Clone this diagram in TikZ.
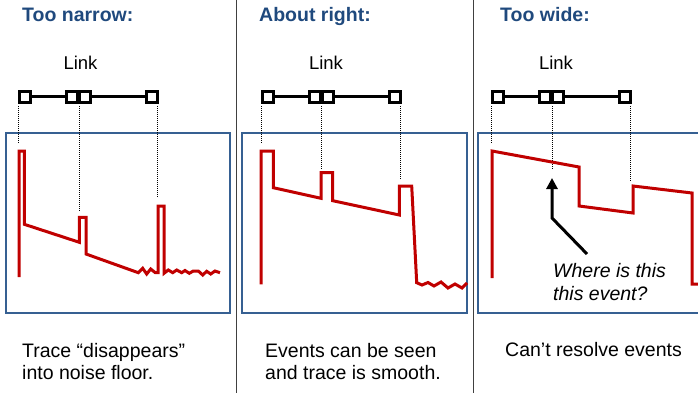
\documentclass[tikz,border=0pt]{standalone}
\usepackage{fontspec}
\setmainfont{Liberation Sans}
\usetikzlibrary{arrows.meta}
\definecolor{titleblue}{RGB}{31,73,125}
\definecolor{boxblue}{RGB}{54,96,146}
\definecolor{tracered}{RGB}{192,0,0}
\definecolor{sepgray}{RGB}{64,64,64}
\newcommand\linkrow[3]{% #1 prefix, #2 x of first square, #3 label x offset
  \node[sq] (#1a) at (#2,97) {};
  \node[sq] (#1b) at (#2+47,97) {};
  \node[sq] (#1c) at (#2+60.3,97) {};
  \node[sq] (#1d) at (#2+127,97) {};
  \draw[linkline] (#1a) -- (#1b);
  \draw[linkline] (#1c) -- (#1d);
  \node[linklabel] (#1lab) at (#2+#3,70) {Link};
}
\begin{document}
\begin{tikzpicture}[x=1pt,y=-1pt,
  title/.style={anchor=base west, inner sep=0, text=titleblue, font=\bfseries\fontsize{19.5}{22}\selectfont},
  linklabel/.style={anchor=base, inner sep=0, font=\fontsize{18.5}{20}\selectfont},
  caption/.style={anchor=base west, inner sep=0, font=\fontsize{19.5}{22}\selectfont},
  question/.style={anchor=base west, inner sep=0, font=\itshape\fontsize{19.5}{22}\selectfont},
  sq/.style={draw, line width=3pt, fill=white, minimum size=10.8pt, inner sep=0},
  linkline/.style={line width=3pt},
  guide/.style={line width=0.8pt, dash pattern=on 1pt off 1pt},
  panelbox/.style={draw=boxblue, line width=1.2pt},
  trace/.style={draw=tracered, line width=3pt},
  sepline/.style={draw=sepgray, line width=1.3pt}]
\useasboundingbox (0,0) rectangle (698,393);
\clip (0,0) rectangle (698,393);

% separators
\coordinate (s1t) at (236.5,0);  \coordinate (s1b) at (236.5,393);
\coordinate (s2t) at (473.5,0);  \coordinate (s2b) at (473.5,393);
\draw[sepline] (s1t) -- (s1b);
\draw[sepline] (s2t) -- (s2b);

% titles
\node[title] (t1) at (22,22) {Too narrow:};
\node[title] (t2) at (259,22) {About right:};
\node[title] (t3) at (500,22) {Too wide:};

% panel boxes
\draw[panelbox] (6,133) rectangle (230,313);
\draw[panelbox] (242,133) rectangle (467,313);
\draw[panelbox] (478,133) rectangle (712,313);

% links
\linkrow{p}{25}{55.5}
\linkrow{q}{267.7}{58.3}
\linkrow{r}{498}{58}

% guides
\coordinate (pg1) at (18.5,106);  \coordinate (pe1) at (18.5,143);
\coordinate (pg2) at (79,106);    \coordinate (pe2) at (79,212);
\coordinate (pg3) at (157.5,106); \coordinate (pe3) at (157.5,198);
\coordinate (qg1) at (261.2,106); \coordinate (qe1) at (261.2,144);
\coordinate (qg2) at (321.7,106); \coordinate (qe2) at (321.7,169);
\coordinate (qg3) at (400.2,106); \coordinate (qe3) at (400.2,180);
\coordinate (rg1) at (491.5,106); \coordinate (re1) at (491.5,143);
\coordinate (rg2) at (552,106);   \coordinate (re2) at (552,169);
\coordinate (rg3) at (630.5,106); \coordinate (re3) at (630.5,181);
\foreach \p in {p,q,r}{\foreach \i in {1,2,3}{\draw[guide] (\p g\i) -- (\p e\i);}}

% trace 1
\draw[trace] (19,277) -- (19,151) -- (24.3,151) -- (24.3,224.3) -- (79.3,242.3)
  -- (79.3,217.3) -- (86,217.3) -- (86,254) -- (138.3,272.7)
  -- (142.7,268.3) -- (146.7,274) -- (150.7,269) -- (155.3,272.7) -- (158,272.7)
  -- (158,206) -- (164,206) -- (164,273.3)
  -- (168.3,270) -- (172.7,272.7) -- (176.7,270) -- (181.7,272.7) -- (185,270.5)
  -- (189.3,273.3) -- (193.3,271) -- (198.3,271) -- (202.7,275) -- (206.7,271.3)
  -- (210.7,274) -- (215,271) -- (220,272.7);

% trace 2
\draw[trace] (261,284.3) -- (261,151) -- (273.3,151) -- (273.3,187.7) -- (321,198.3)
  -- (321,172.7) -- (332.7,172.7) -- (332.7,200.7) -- (399.3,215)
  -- (399.3,186) -- (411.7,186) -- (416.7,282.7)
  -- (422,285) -- (428,282.5) -- (434,286) -- (441,282) -- (448,288)
  -- (455,284) -- (462,288) -- (467,283);

% trace 3
\draw[trace] (492,278) -- (492,151) -- (579,167) -- (579,206) -- (633,213)
  -- (633,186) -- (692,193) -- (692,284) -- (705,284);

% question and arrow
\node[question] (qa) at (553,277) {Where is this};
\node[question] (qb) at (553,300) {this event?};
\coordinate (arrS) at (587,254);
\coordinate (arrK) at (552,218);
\coordinate (arrT) at (552,178);
\draw[line width=3pt, -{Triangle[length=11pt,width=11pt]}] (arrS) -- (arrK) -- (arrT);

% captions
\node[caption] (c1a) at (22,357) {Trace “disappears”};
\node[caption] (c1b) at (22,379) {into noise floor.};
\node[caption] (c2a) at (265,357) {Events can be seen};
\node[caption] (c2b) at (265,379) {and trace is smooth.};
\node[caption] (c3a) at (505,356) {Can’t resolve events};
\end{tikzpicture}
\end{document}
